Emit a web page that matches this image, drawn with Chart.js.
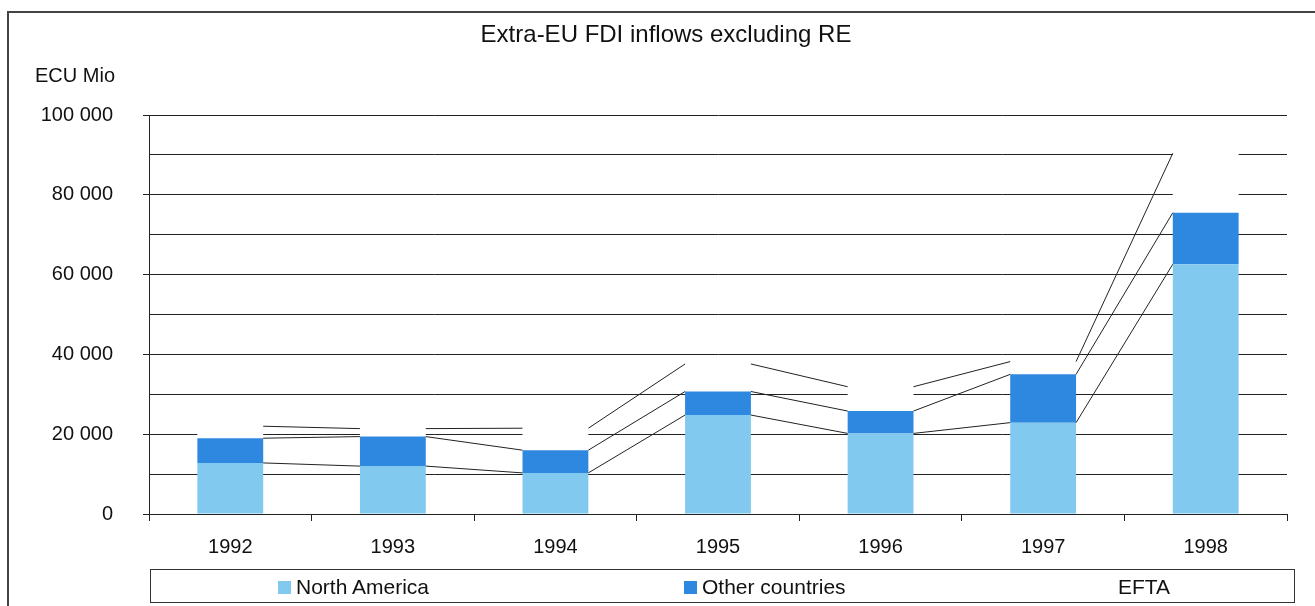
<!DOCTYPE html>
<html>
<head>
<meta charset="utf-8">
<title>Extra-EU FDI inflows excluding RE</title>
<script src="https://cdn.jsdelivr.net/npm/chart.js@4.4.1/dist/chart.umd.min.js"></script>
<style>
  html, body { margin: 0; padding: 0; background: #fff; }
  body { width: 1315px; height: 606px; position: relative; overflow: hidden;
         font-family: "Liberation Sans", Arial, sans-serif; color: #111; }
  #frame { position: absolute; left: 7px; top: 11px; width: 1320px; height: 610px;
           border-left: 2px solid #444; border-top: 2px solid #444; }
  #wrap { position: absolute; left: 0; top: 0; width: 1315px; height: 606px; }
  #title { position: absolute; left: 0; width: 1332px; top: 20px; text-align: center; font-size: 24px; }
  #unit { position: absolute; left: 35px; top: 64px; font-size: 20px; }
  #legend { position: absolute; left: 150px; top: 569px; width: 1143px; height: 32px;
            border: 1px solid #333; }
  #legend .item { position: absolute; top: 5px; font-size: 21px; line-height: 23px; white-space: nowrap; }
  #legend .swatch { display: inline-block; width: 13px; height: 13px; margin-right: 5px; vertical-align: 0; }
</style>
</head>
<body>
<div id="frame"></div>
<div id="wrap"><canvas id="chart"></canvas></div>
<div id="title">Extra-EU FDI inflows excluding RE</div>
<div id="unit">ECU Mio</div>
<div id="legend"></div>

<script>
// ECU million, stacked per year
const years = ["1992", "1993", "1994", "1995", "1996", "1997", "1998"];
const northAmerica = [12800, 12000, 10300, 24800, 20200, 22900, 62600];
const otherCountries = [6200, 7400, 5700, 5900, 5600, 12100, 12900];
const efta = [3000, 2000, 5500, 6900, 6100, 3200, 14900];
const seriesNames = ["North America", "Other countries", "EFTA"];

// legend item offsets inside the legend box
const legendLeft = [127, 533, 949];

const FONT = '"Liberation Sans", Arial, sans-serif';
const INK = "#222";

// lines joining the tops of each stacked segment from one bar to the next
const seriesLines = {
  id: "seriesLines",
  afterDatasetsDraw(chart) {
    const ctx = chart.ctx;
    ctx.save();
    ctx.strokeStyle = INK;
    ctx.lineWidth = 1;
    chart.data.datasets.forEach((ds, d) => {
      const bars = chart.getDatasetMeta(d).data;
      for (let i = 0; i < bars.length - 1; i++) {
        const a = bars[i];
        const b = bars[i + 1];
        ctx.beginPath();
        ctx.moveTo(a.x + a.width / 2, a.y);
        ctx.lineTo(b.x - b.width / 2, b.y);
        ctx.stroke();
      }
    });
    ctx.restore();
  },
};

const fmt = (v) => String(v).replace(/\B(?=(\d{3})+(?!\d))/g, " ");

const chart = new Chart(document.getElementById("chart"), {
  type: "bar",
  data: {
    labels: years,
    datasets: [
      { label: seriesNames[0], data: northAmerica, backgroundColor: "#82c9ef" },
      { label: seriesNames[1], data: otherCountries, backgroundColor: "#2e88e0" },
      { label: seriesNames[2], data: efta, backgroundColor: "#ffffff" },
    ],
  },
  options: {
    responsive: true,
    maintainAspectRatio: false,
    animation: false,
    layout: { padding: { top: 115, right: 28, bottom: 0, left: 0 } },
    datasets: {
      bar: { categoryPercentage: 1, barPercentage: 0.405, borderWidth: 0 },
    },
    plugins: {
      legend: { display: false },
      title: { display: false },
      tooltip: { enabled: false },
    },
    scales: {
      x: {
        stacked: true,
        afterFit: (scale) => { scale.height = 92; },
        grid: {
          offset: true,
          drawOnChartArea: false,
          drawTicks: true,
          tickLength: 7,
          color: INK,
        },
        border: { display: true, color: INK, width: 1 },
        ticks: {
          color: "#111",
          padding: 14,
          font: { family: FONT, size: 20 },
          maxRotation: 0,
        },
      },
      y: {
        stacked: true,
        min: 0,
        max: 100000,
        afterFit: (scale) => { scale.width = 149; },
        grid: {
          color: INK,
          lineWidth: 1,
          tickLength: 6,
          tickColor: (ctx) => (ctx.tick && ctx.tick.value % 20000 === 0 ? INK : "rgba(0,0,0,0)"),
        },
        border: { display: true, color: INK, width: 1 },
        ticks: {
          stepSize: 10000,
          autoSkip: false,
          padding: 30,
          color: "#111",
          font: { family: FONT, size: 20 },
          callback: (v) => (v % 20000 === 0 ? fmt(v) : ""),
        },
      },
    },
  },
  plugins: [seriesLines],
});

// legend built from the chart's datasets
const legend = document.getElementById("legend");
chart.data.datasets.forEach((ds, i) => {
  const item = document.createElement("div");
  item.className = "item";
  item.style.left = legendLeft[i] + "px";
  const sw = document.createElement("span");
  sw.className = "swatch";
  sw.style.background = ds.backgroundColor;
  item.appendChild(sw);
  item.appendChild(document.createTextNode(ds.label));
  legend.appendChild(item);
});
</script>
</body>
</html>
